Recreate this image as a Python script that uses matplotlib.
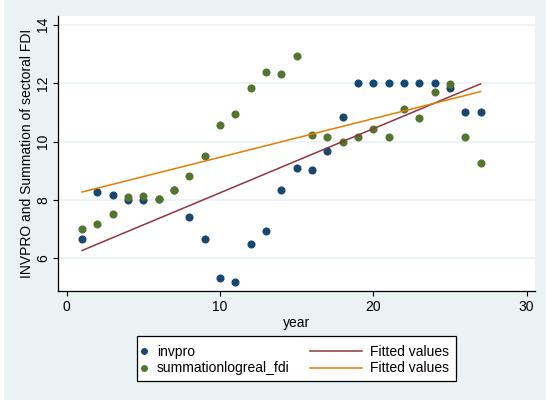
import numpy as np
import matplotlib
matplotlib.use("Agg")
import matplotlib.pyplot as plt
from matplotlib.patches import Rectangle
from matplotlib.lines import Line2D

plt.rcParams['font.family'] = ['Liberation Sans', 'DejaVu Sans']

year = list(range(1, 28))
invpro = [6.67, 8.26, 8.17, 8.00, 8.00, 8.02, 8.33, 7.43, 6.67, 5.34,
          5.18, 6.50, 6.93, 8.34, 9.09, 9.01, 9.67, 10.83, 12.00, 12.00,
          12.00, 12.00, 12.00, 12.00, 11.83, 11.00, 11.00]
summationlogreal_fdi = [7.02, 7.18, 7.52, 8.11, 8.14, 8.02, 8.33, 8.82, 9.49, 10.55,
                        10.95, 11.84, 12.39, 12.33, 12.94, 10.23, 10.15, 9.97, 10.17, 10.42,
                        10.17, 11.13, 10.80, 11.68, 11.97, 10.15, 9.26]
xticks = [0, 10, 20, 30]
yticks = [6, 8, 10, 12, 14]
series_labels = ['invpro', 'summationlogreal_fdi']
fit_labels = ['Fitted values', 'Fitted values']

navy = '#1a476f'
maroon = '#90353b'
green = '#55752f'
orange = '#e37e00'
bg = '#eaf2f3'

W, H = 546, 400
x = np.array(year, dtype=float)
y1 = np.array(invpro)
y2 = np.array(summationlogreal_fdi)

# linear fits of each series on year
b1 = np.polyfit(x, y1, 1)
b2 = np.polyfit(x, y2, 1)
xf = np.array([x.min(), x.max()])

fig = plt.figure(figsize=(W / 100, H / 100), dpi=100, facecolor=bg)
fig.patches.append(Rectangle((0, 0), 4 / W, 1, transform=fig.transFigure,
                             facecolor='white', edgecolor='none', zorder=-1))

ax = fig.add_axes([57.5 / W, 1 - 291 / H, (535 - 57.5) / W, (291 - 15.7) / H])
ax.set_facecolor('white')

ax.scatter(x, y1, s=34, color=navy, zorder=3, linewidths=0)
ax.scatter(x, y2, s=34, color=green, zorder=3, linewidths=0)
ax.plot(xf, np.polyval(b1, xf), color=maroon, lw=1.1, zorder=4)
ax.plot(xf, np.polyval(b2, xf), color=orange, lw=1.1, zorder=4)

ax.set_xlim(-0.6, 30.55)
ax.set_ylim(4.88, 14.31)
ax.set_xticks(xticks)
ax.set_yticks(yticks)
ax.set_yticklabels([str(t) for t in yticks], rotation=90, va='center')
ax.tick_params(axis='both', direction='out', length=3.6, width=0.8, colors='black',
               labelsize=10)
ax.tick_params(axis='x', pad=3)
ax.tick_params(axis='y', pad=1.5)
ax.grid(axis='y', color=bg, lw=1.2, zorder=0)
ax.set_axisbelow(True)
for s in ['top', 'right']:
    ax.spines[s].set_visible(False)
for s in ['left', 'bottom']:
    ax.spines[s].set_linewidth(0.9)

ax.set_xlabel('year', fontsize=10, labelpad=1.5)
ax.set_ylabel('INVPRO and Summation of sectoral FDI', fontsize=10, labelpad=1.5)

# legend: markers in the first column, fit lines in the second, one shared frame
fig.patches.append(Rectangle((137.3 / W, 1 - 380.7 / H), (456 - 137.3) / W, (380.7 - 336) / H,
                             transform=fig.transFigure, facecolor='white',
                             edgecolor='black', lw=0.9, zorder=1))
mk_handles = [Line2D([], [], ls='none', marker='o', ms=5, mew=0, color=c) for c in (navy, green)]
ln_handles = [Line2D([], [], color=c, lw=1.1) for c in (maroon, orange)]
common = dict(loc='center left', frameon=False, fontsize=10, borderpad=0,
              borderaxespad=0, labelspacing=0.2, numpoints=1)
leg1 = fig.legend(mk_handles, series_labels, bbox_to_anchor=(138.45 / W, 1 - 360 / H),
                  handlelength=0.8, handletextpad=0.51, **common)
leg2 = fig.legend(ln_handles, fit_labels, bbox_to_anchor=(310 / W, 1 - 360 / H),
                  handlelength=3.72, handletextpad=0.6, **common)
leg1.set_zorder(2)
leg2.set_zorder(2)

fig.savefig('out.png', dpi=100, facecolor=bg)
